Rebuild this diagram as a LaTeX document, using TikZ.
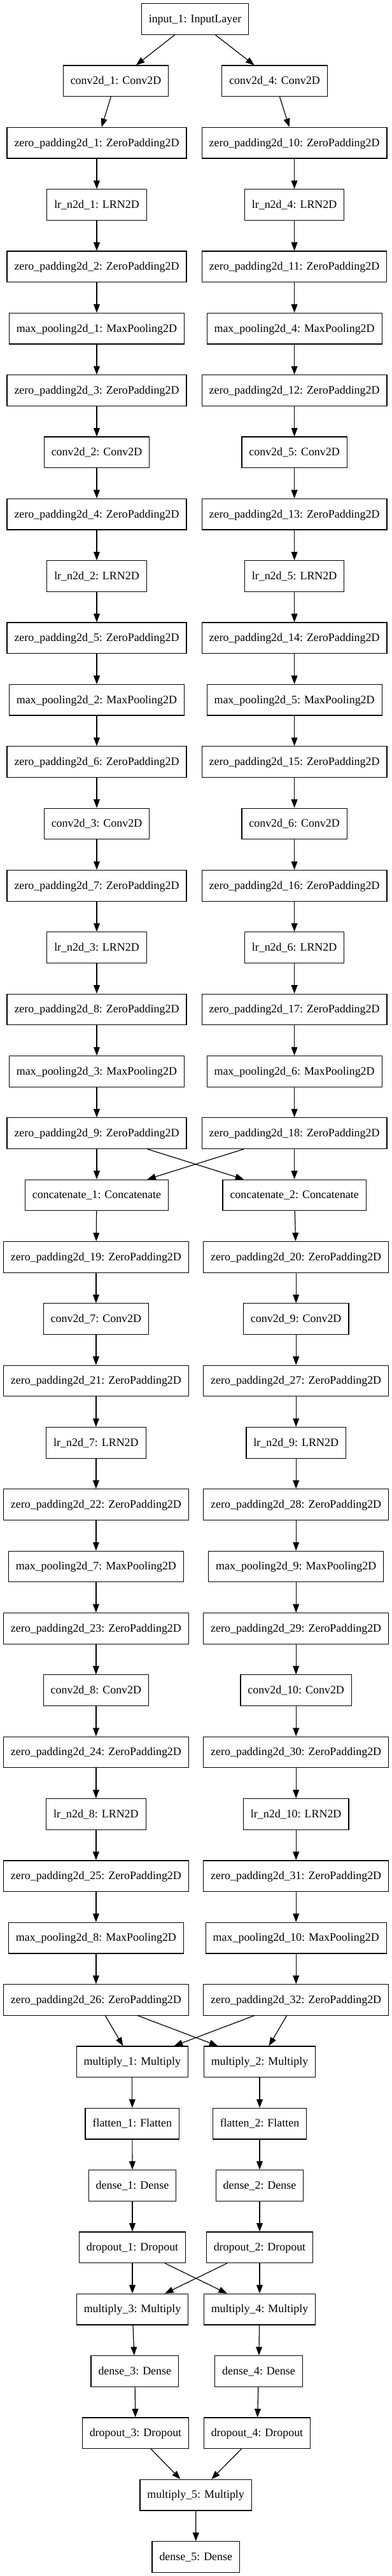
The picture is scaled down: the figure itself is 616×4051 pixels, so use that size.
\documentclass[tikz,border=0pt]{standalone}
\usepackage{fontspec}
\setmainfont{Liberation Serif}
\usetikzlibrary{arrows.meta}
\begin{document}
\begin{tikzpicture}[x=0.75pt,y=-0.75pt,
  box/.style={draw, line width=0.9pt, rectangle, inner xsep=8.6pt, inner ysep=0pt,
    minimum height=36.5pt, text height=10pt, text depth=2pt,
    font=\fontsize{13.45}{16}\selectfont},
  edge/.style={line width=0.9pt, -{Triangle[length=10pt,width=7.4pt]}}]
\useasboundingbox (0,0) rectangle (616,4051);
\foreach \nm/\lab/\xx/\rw in {
  in/input\_1: InputLayer/306.5/0,
  c1/conv2d\_1: Conv2D/182/1,
  z1/zero\_padding2d\_1: ZeroPadding2D/152/2,
  l1/lr\_n2d\_1: LRN2D/152/3,
  z2/zero\_padding2d\_2: ZeroPadding2D/152/4,
  m1/max\_pooling2d\_1: MaxPooling2D/152/5,
  z3/zero\_padding2d\_3: ZeroPadding2D/152/6,
  c2/conv2d\_2: Conv2D/152/7,
  z4/zero\_padding2d\_4: ZeroPadding2D/152/8,
  l2/lr\_n2d\_2: LRN2D/152/9,
  z5/zero\_padding2d\_5: ZeroPadding2D/152/10,
  m2/max\_pooling2d\_2: MaxPooling2D/152/11,
  z6/zero\_padding2d\_6: ZeroPadding2D/152/12,
  c3/conv2d\_3: Conv2D/152/13,
  z7/zero\_padding2d\_7: ZeroPadding2D/152/14,
  l3/lr\_n2d\_3: LRN2D/152/15,
  z8/zero\_padding2d\_8: ZeroPadding2D/152/16,
  m3/max\_pooling2d\_3: MaxPooling2D/152/17,
  z9/zero\_padding2d\_9: ZeroPadding2D/152/18,
  cat1/concatenate\_1: Concatenate/152/19,
  z19/zero\_padding2d\_19: ZeroPadding2D/150.9/20,
  c7/conv2d\_7: Conv2D/150.9/21,
  z21/zero\_padding2d\_21: ZeroPadding2D/150.9/22,
  l7/lr\_n2d\_7: LRN2D/150.9/23,
  z22/zero\_padding2d\_22: ZeroPadding2D/150.9/24,
  m7/max\_pooling2d\_7: MaxPooling2D/150.9/25,
  z23/zero\_padding2d\_23: ZeroPadding2D/150.9/26,
  c8/conv2d\_8: Conv2D/150.9/27,
  z24/zero\_padding2d\_24: ZeroPadding2D/150.9/28,
  l8/lr\_n2d\_8: LRN2D/150.9/29,
  z25/zero\_padding2d\_25: ZeroPadding2D/150.9/30,
  m8/max\_pooling2d\_8: MaxPooling2D/150.9/31,
  z26/zero\_padding2d\_26: ZeroPadding2D/150.9/32,
  mul1/multiply\_1: Multiply/207.8/33,
  f1/flatten\_1: Flatten/207.8/34,
  d1/dense\_1: Dense/208/35,
  dr1/dropout\_1: Dropout/208/36,
  mul3/multiply\_3: Multiply/208/37,
  d3/dense\_3: Dense/211.8/38,
  dr3/dropout\_3: Dropout/213/39,
  mul5/multiply\_5: Multiply/307.7/40,
  d5/dense\_5: Dense/307.8/41,
  c4/conv2d\_4: Conv2D/431.5/1,
  z10/zero\_padding2d\_10: ZeroPadding2D/462.6/2,
  l4/lr\_n2d\_4: LRN2D/462.6/3,
  z11/zero\_padding2d\_11: ZeroPadding2D/462.6/4,
  m4/max\_pooling2d\_4: MaxPooling2D/462.6/5,
  z12/zero\_padding2d\_12: ZeroPadding2D/462.6/6,
  c5/conv2d\_5: Conv2D/462.6/7,
  z13/zero\_padding2d\_13: ZeroPadding2D/462.6/8,
  l5/lr\_n2d\_5: LRN2D/462.6/9,
  z14/zero\_padding2d\_14: ZeroPadding2D/462.6/10,
  m5/max\_pooling2d\_5: MaxPooling2D/462.6/11,
  z15/zero\_padding2d\_15: ZeroPadding2D/462.6/12,
  c6/conv2d\_6: Conv2D/462.6/13,
  z16/zero\_padding2d\_16: ZeroPadding2D/462.6/14,
  l6/lr\_n2d\_6: LRN2D/462.6/15,
  z17/zero\_padding2d\_17: ZeroPadding2D/462.6/16,
  m6/max\_pooling2d\_6: MaxPooling2D/462.6/17,
  z18/zero\_padding2d\_18: ZeroPadding2D/462.6/18,
  cat2/concatenate\_2: Concatenate/462.6/19,
  z20/zero\_padding2d\_20: ZeroPadding2D/465.2/20,
  c9/conv2d\_9: Conv2D/465.2/21,
  z27/zero\_padding2d\_27: ZeroPadding2D/465.2/22,
  l9/lr\_n2d\_9: LRN2D/465.2/23,
  z28/zero\_padding2d\_28: ZeroPadding2D/465.2/24,
  m9/max\_pooling2d\_9: MaxPooling2D/465.2/25,
  z29/zero\_padding2d\_29: ZeroPadding2D/465.2/26,
  c10/conv2d\_10: Conv2D/465.2/27,
  z30/zero\_padding2d\_30: ZeroPadding2D/465.2/28,
  l10/lr\_n2d\_10: LRN2D/465.2/29,
  z31/zero\_padding2d\_31: ZeroPadding2D/465.2/30,
  m10/max\_pooling2d\_10: MaxPooling2D/465.2/31,
  z32/zero\_padding2d\_32: ZeroPadding2D/465.2/32,
  mul2/multiply\_2: Multiply/408/33,
  f2/flatten\_2: Flatten/408/34,
  d2/dense\_2: Dense/408/35,
  dr2/dropout\_2: Dropout/408/36,
  mul4/multiply\_4: Multiply/408/37,
  d4/dense\_4: Dense/406.5/38,
  dr4/dropout\_4: Dropout/404/39}
{ \node[box] (\nm) at (\xx,{30+97.34*\rw}) {\lab}; }
\foreach \a/\b in {in/c1, c1/z1, z1/l1, l1/z2, z2/m1, m1/z3, z3/c2, c2/z4, z4/l2, l2/z5,
  z5/m2, m2/z6, z6/c3, c3/z7, z7/l3, l3/z8, z8/m3, m3/z9, z9/cat1, cat1/z19, z19/c7,
  c7/z21, z21/l7, l7/z22, z22/m7, m7/z23, z23/c8, c8/z24, z24/l8, l8/z25, z25/m8,
  m8/z26, z26/mul1, mul1/f1, f1/d1, d1/dr1, dr1/mul3, mul3/d3, d3/dr3, dr3/mul5, mul5/d5,
  in/c4, c4/z10, z10/l4, l4/z11, z11/m4, m4/z12, z12/c5, c5/z13, z13/l5, l5/z14,
  z14/m5, m5/z15, z15/c6, c6/z16, z16/l6, l6/z17, z17/m6, m6/z18, z18/cat2, cat2/z20,
  z20/c9, c9/z27, z27/l9, l9/z28, z28/m9, m9/z29, z29/c10, c10/z30, z30/l10, l10/z31,
  z31/m10, m10/z32, z32/mul2, mul2/f2, f2/d2, d2/dr2, dr2/mul4, mul4/d4, d4/dr4, dr4/mul5,
  z9/cat2, z18/cat1, z26/mul2, z32/mul1, dr1/mul4, dr2/mul3}
{ \draw[edge] (\a) -- (\b); }
\end{tikzpicture}
\end{document}
